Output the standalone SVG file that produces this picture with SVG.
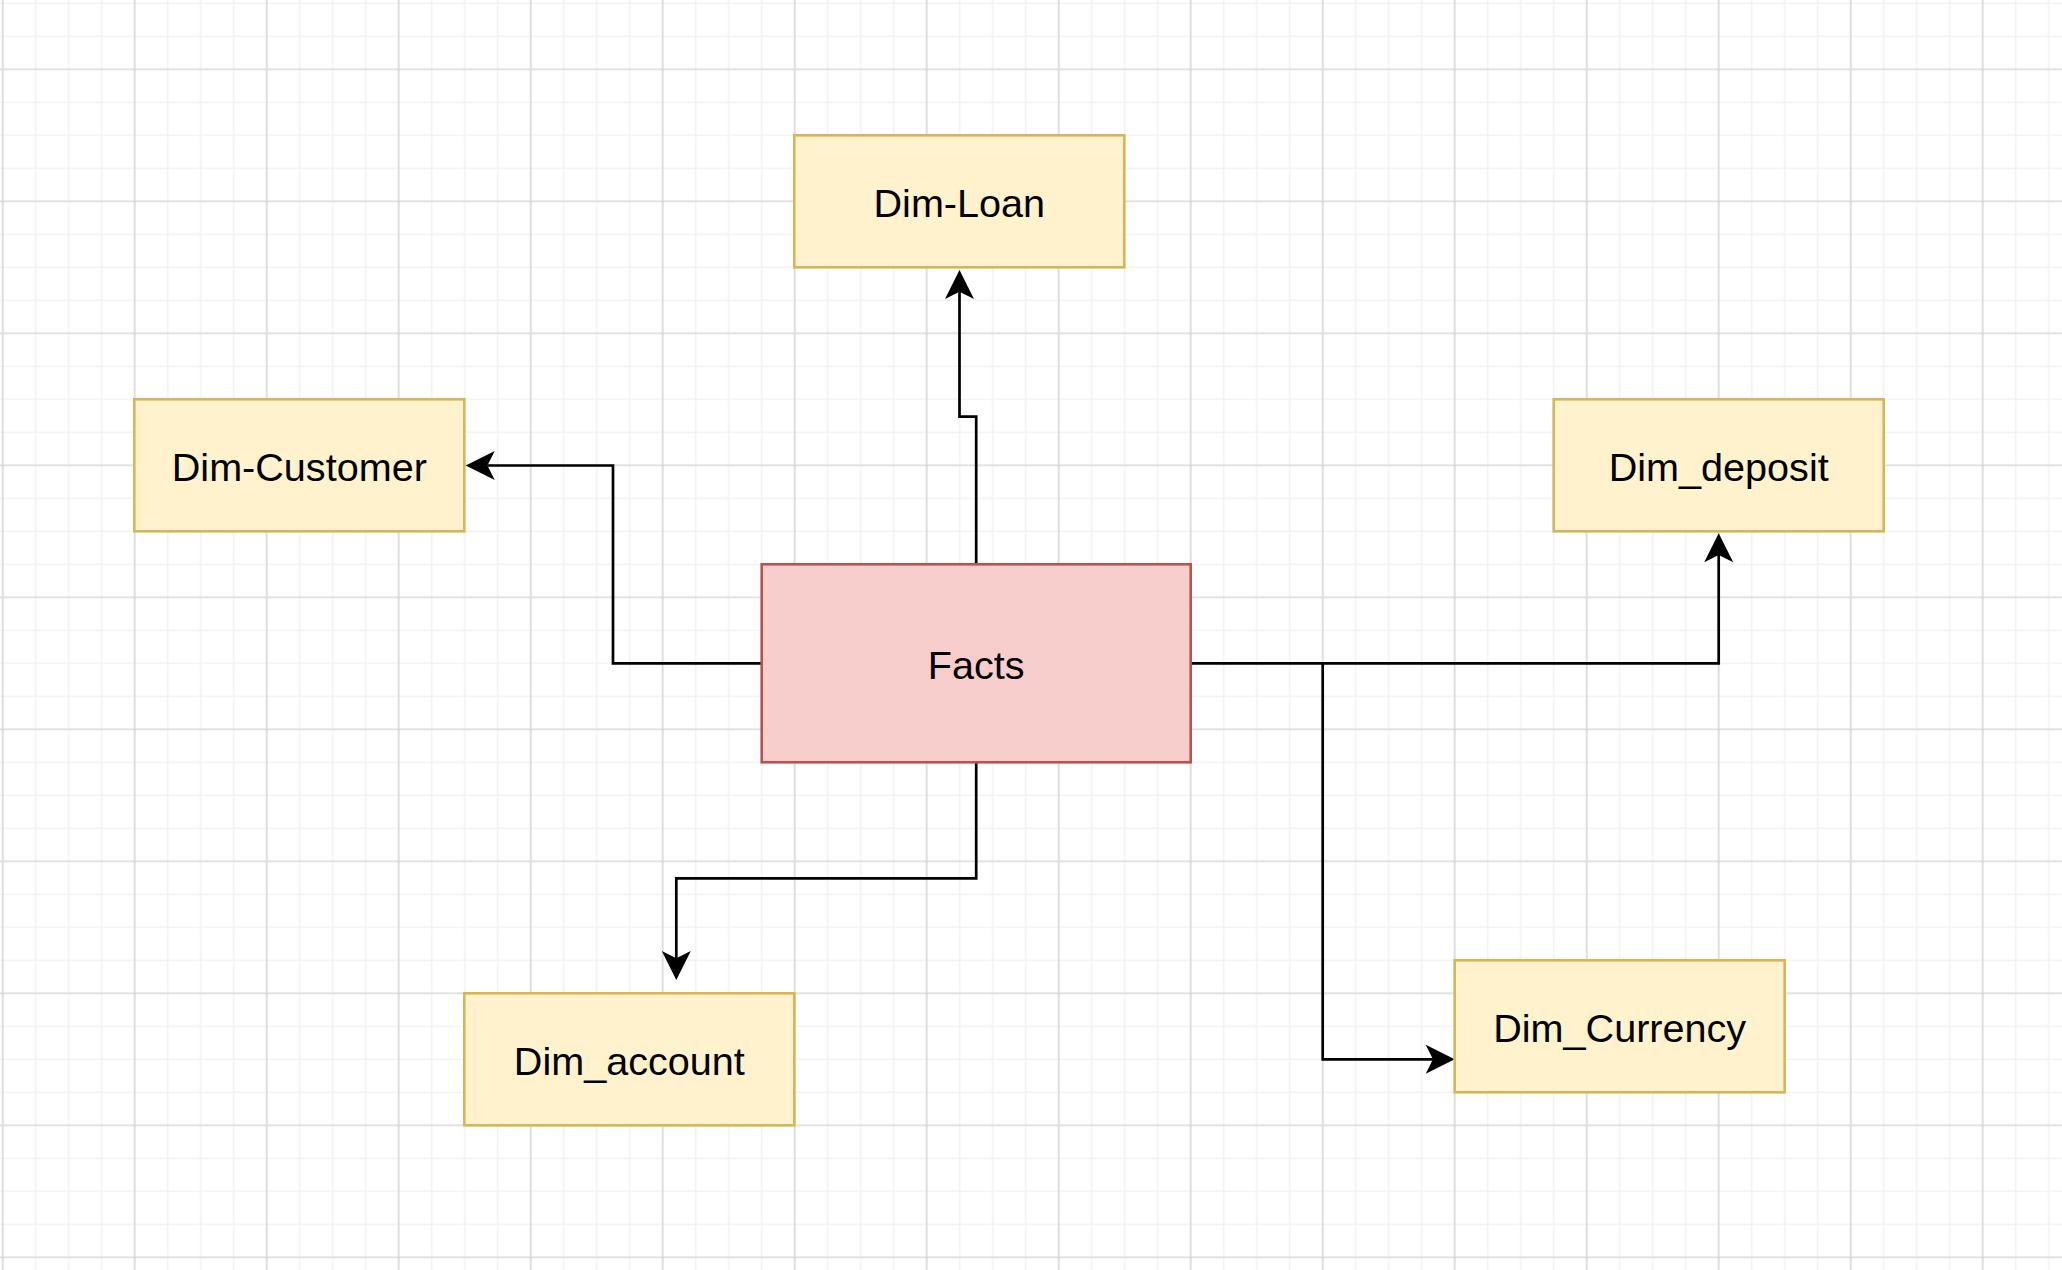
<svg xmlns="http://www.w3.org/2000/svg" width="2062" height="1270" viewBox="0 0 2062 1270">
<style>
.dim rect{fill:#fff2cc;stroke:#d6b656;stroke-width:2.6}
.fact rect{fill:#f8cecc;stroke:#b85450;stroke-width:2.6}
text{font-family:"Liberation Sans",Arial,Helvetica,sans-serif;font-size:39.6px;fill:#000;text-anchor:middle}
.edge{fill:none;stroke:#000;stroke-width:2.7;marker-end:url(#arr)}
</style>
<defs>
<pattern id="minor" patternUnits="userSpaceOnUse" x="-13.8" y="-13.2" width="33" height="33">
<path d="M16.5 0V33M0 16.5H33" stroke="#f2f2f2" stroke-width="1.6" fill="none"/>
</pattern>
<pattern id="major" patternUnits="userSpaceOnUse" x="-63.3" y="3.3" width="132" height="132">
<path d="M66 0V132M0 66H132" stroke="#d0d0d0" stroke-width="1.2" fill="none"/>
</pattern>
<marker id="arr" markerUnits="userSpaceOnUse" orient="auto" refX="0" refY="0" markerWidth="40" markerHeight="40" overflow="visible">
<path d="M21.75 0L-7.25 -14.5L0 0L-7.25 14.5Z" fill="#000"/>
</marker>
</defs>
<rect width="2062" height="1270" fill="#fff"/>
<rect width="2062" height="1270" fill="url(#minor)"/>
<rect width="2062" height="1270" fill="url(#major)"/>
<g id="connectors">
<path class="edge" d="M976.2 564.3V416.7H959.5V291.75"/>
<path class="edge" d="M761.7 663.3H613V465.5H487.45"/>
<path class="edge" d="M1190.7 663.3H1718.7V555"/>
<path class="edge" d="M1322.7 663.3V1059.3H1432.95"/>
<path class="edge" d="M976.2 762.3V878.3H676.3V958.25"/>
</g>
<g id="dim-loan" class="dim"><rect x="794.3" y="135.3" width="330" height="132"/><text x="959.3" y="216.8">Dim-Loan</text></g>
<g id="dim-customer" class="dim"><rect x="134.3" y="399.3" width="330" height="132"/><text x="299.3" y="480.8">Dim-Customer</text></g>
<g id="dim-deposit" class="dim"><rect x="1553.7" y="399.3" width="330" height="132"/><text x="1718.7" y="480.8">Dim_deposit</text></g>
<g id="facts" class="fact"><rect x="761.7" y="564.3" width="429" height="198"/><text x="976.2" y="678.8">Facts</text></g>
<g id="dim-account" class="dim"><rect x="464.3" y="993.3" width="330" height="132"/><text x="629.3" y="1074.8">Dim_account</text></g>
<g id="dim-currency" class="dim"><rect x="1454.7" y="960.3" width="330" height="132"/><text x="1619.7" y="1041.8">Dim_Currency</text></g>
</svg>
